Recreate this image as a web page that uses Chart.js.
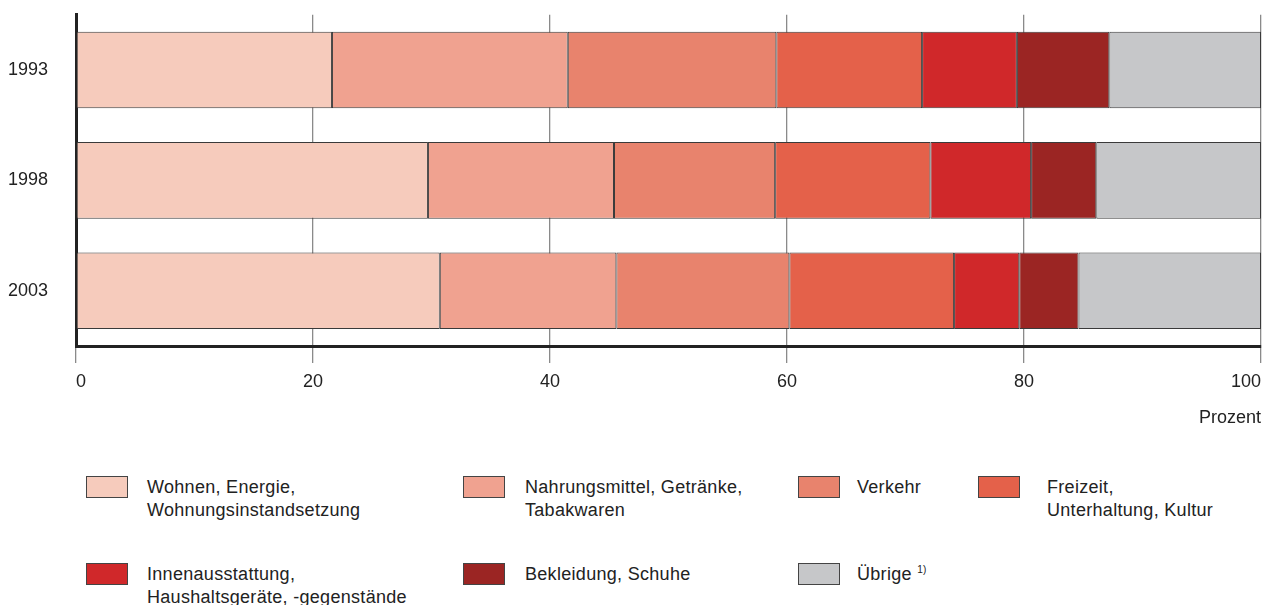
<!DOCTYPE html>
<html lang="de">
<head>
<meta charset="utf-8">
<script src="https://cdn.jsdelivr.net/npm/chart.js@4"></script>
<style>
  html, body { margin: 0; padding: 0; background: #fff; }
  body { width: 1274px; height: 605px; position: relative; overflow: hidden;
         font-family: "Liberation Sans", Arial, sans-serif; color: #222; }
  #wrap { position: absolute; left: 0; top: -24px; width: 1274px; height: 464px; }
  .box { position: absolute; width: 40px; height: 20px; border: 1px solid #444; }
  .txt { position: absolute; font-size: 18px; line-height: 22.5px; white-space: nowrap; letter-spacing: 0.3px; }
  sup { font-size: 10px; vertical-align: 7px; line-height: 0; }
</style>
</head>
<body>
<div id="wrap"><canvas id="c" width="1274" height="464"></canvas></div>
<div id="legend"></div>
<script>
const years = ["1993", "1998", "2003"];
const seriesNames = [
  "Wohnen, Energie,\nWohnungsinstandsetzung",
  "Nahrungsmittel, Getränke,\nTabakwaren",
  "Verkehr",
  "Freizeit,\nUnterhaltung, Kultur",
  "Innenausstattung,\nHaushaltsgeräte, -gegenstände",
  "Bekleidung, Schuhe",
  "Übrige"
];
const wohnen       = [21.6, 29.7, 30.7];
const nahrung      = [19.9, 15.7, 14.9];
const verkehr      = [17.6, 13.6, 14.6];
const freizeit     = [12.3, 13.1, 13.9];
const innen        = [8.0, 8.5, 5.5];
const bekleidung   = [7.8, 5.5, 5.0];
const uebrige      = [12.8, 13.9, 15.4];
const xTicks = [0, 20, 40, 60, 80, 100];
const colors = ["#F6CBBC", "#F0A290", "#E8836D", "#E4614A", "#D0282A", "#9B2523", "#C6C7C9"];

const allValues = [wohnen, nahrung, verkehr, freizeit, innen, bekleidung, uebrige];

const datasets = allValues.map((vals, i) => ({
  label: seriesNames[i].replace("\n", " "),
  data: vals,
  backgroundColor: colors[i],
  borderColor: "#3a3a3a",
  borderWidth: 1,
  borderSkipped: false,
  categoryPercentage: 1.0,
  barPercentage: 0.694
}));

new Chart(document.getElementById("c"), {
  type: "bar",
  data: { labels: years, datasets },
  options: {
    indexAxis: "y",
    responsive: false,
    animation: false,
    layout: { padding: { top: 13, right: 13, left: 0, bottom: 0 } },
    plugins: { legend: { display: false }, tooltip: { enabled: false } },
    scales: {
      x: {
        stacked: true,
        min: 0, max: 100,
        afterBuildTicks: (s) => { s.ticks = xTicks.map(v => ({ value: v })); },
        afterFit: (s) => { s.height = 94; },
        grid: { color: "#8a8a8a", lineWidth: 1.3, tickLength: 17, tickColor: "#8a8a8a", drawOnChartArea: true },
        border: { display: true, color: "#222", width: 3 },
        ticks: { color: "#222", font: { family: "Liberation Sans", size: 18 }, padding: 8, maxRotation: 0, align: "inner" },
        title: { display: true, text: "Prozent", align: "end", color: "#222",
                 font: { family: "Liberation Sans", size: 18 }, padding: { top: 0, bottom: 11 } }
      },
      y: {
        stacked: true,
        afterFit: (s) => { s.width = 76; },
        grid: { display: false, drawTicks: false, tickLength: 0 },
        border: { display: true, color: "#222", width: 3 },
        ticks: { color: "#222", font: { family: "Liberation Sans", size: 18 }, padding: 28 }
      }
    }
  }
});

// Legend (HTML, multi-line labels)
const legendPos = [
  { bx: 86, by: 476, tx: 147 },
  { bx: 463, by: 476, tx: 525 },
  { bx: 798, by: 476, tx: 857 },
  { bx: 978, by: 476, tx: 1047 },
  { bx: 86, by: 563, tx: 147 },
  { bx: 463, by: 563, tx: 525 },
  { bx: 798, by: 563, tx: 857 }
];
const lg = document.getElementById("legend");
seriesNames.forEach((name, i) => {
  const p = legendPos[i];
  const b = document.createElement("div");
  b.className = "box";
  b.style.left = p.bx + "px"; b.style.top = p.by + "px";
  b.style.background = colors[i];
  lg.appendChild(b);
  const t = document.createElement("div");
  t.className = "txt";
  t.style.left = p.tx + "px"; t.style.top = p.by + "px";
  let html = name.split("\n").join("<br>");
  if (i === 6) html += " <sup>1)</sup>";
  t.innerHTML = html;
  lg.appendChild(t);
});
</script>
</body>
</html>
